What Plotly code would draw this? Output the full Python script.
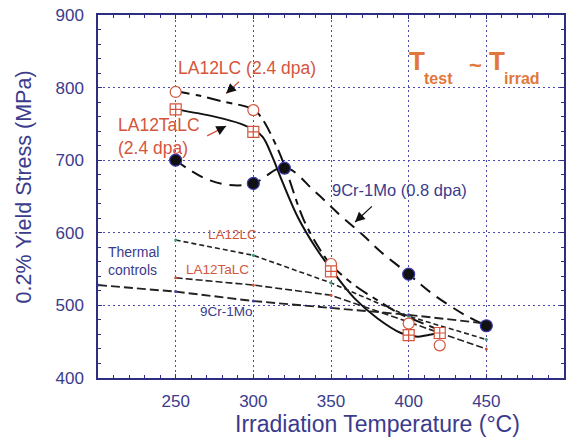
import plotly.graph_objects as go

# ---- measured data ----
temp_irr = [250, 300, 350, 400, 420]
la12lc_ys = [794, 769, 557, 475, 445]
la12talc_ys = [770, 739, 547, 459, 462]

temp_9cr = [250, 300, 320, 400, 450]
cr9_ys = [700, 668, 689, 543, 472]

# fitted trend curves
la12lc_fit_x = [250, 265, 280, 300, 306, 313, 320, 332, 342, 350, 365, 380, 393, 406, 420]
la12lc_fit_y = [795, 789, 781, 770, 756, 728, 693, 620, 580, 556, 528, 507, 490, 478, 466]
la12talc_fit_x = [250, 275, 292, 300, 306, 312, 318, 329, 340, 350, 365, 380, 395, 405, 412, 420]
la12talc_fit_y = [770, 760, 750, 742, 732, 706, 674, 620, 580, 550, 510, 482, 462, 457, 459, 462]
cr9_fit_x = [250, 258, 270, 284, 300, 320, 340, 356, 370, 382, 400, 414, 436, 450]
cr9_fit_y = [700, 688, 674, 666, 668, 690, 656, 624, 598, 574, 543, 518, 487, 472]

# thermal controls
th_x = [250, 300, 350, 400, 450]
th_la12lc = [590, 569, 531, 485, 453]
th_la12talc = [538, 528, 514, 477, 440]
th_9cr_x = [200, 250, 300, 350, 400, 450]
th_9cr = [528, 519, 506, 497, 487, 475]

x_ticks = [250, 300, 350, 400, 450]
y_ticks = [400, 500, 600, 700, 800, 900]

NAVY = "#3b3b8c"
RED = "#d4553c"
ORANGE = "#e2773a"
FONT = "Liberation Sans, Arial, sans-serif"

fig = go.Figure()

# fit curves
fig.add_trace(go.Scatter(x=la12lc_fit_x, y=la12lc_fit_y, mode="lines",
                         line=dict(color="#111", width=2, dash="14px,6px,6px,6px", shape="spline")))
fig.add_trace(go.Scatter(x=la12talc_fit_x, y=la12talc_fit_y, mode="lines",
                         line=dict(color="#111", width=2, shape="spline")))
fig.add_trace(go.Scatter(x=cr9_fit_x, y=cr9_fit_y, mode="lines",
                         line=dict(color="#111", width=2, dash="12px,8px", shape="spline")))

# thermal control lines
fig.add_trace(go.Scatter(x=th_x, y=th_la12lc, mode="lines+markers",
                         line=dict(color="#222", width=1.6, dash="5px,3px"),
                         marker=dict(size=3, color="#3a9a7a")))
fig.add_trace(go.Scatter(x=th_x, y=th_la12talc, mode="lines+markers",
                         line=dict(color="#222", width=1.6, dash="7px,3px"),
                         marker=dict(size=3, color="#d4553c")))
fig.add_trace(go.Scatter(x=th_9cr_x, y=th_9cr, mode="lines+markers",
                         line=dict(color="#222", width=1.9, dash="9px,4px"),
                         marker=dict(size=3, color="#4040a0")))

# data points
fig.add_trace(go.Scatter(x=temp_irr, y=la12lc_ys, mode="markers",
                         marker=dict(symbol="circle", size=11, color="white",
                                     line=dict(color=RED, width=1.2))))
fig.add_trace(go.Scatter(x=temp_irr, y=la12talc_ys, mode="markers",
                         marker=dict(symbol="square-cross", size=11, color="white",
                                     line=dict(color=RED, width=1.2))))
fig.add_trace(go.Scatter(x=temp_9cr, y=cr9_ys, mode="markers",
                         marker=dict(symbol="circle", size=12, color="#111",
                                     line=dict(color="#3b3baa", width=1.2))))

ann = []
def txt(x, y, s, size, color, xanchor="left", bold=False, align="left"):
    ann.append(dict(x=x, y=y, xref="x", yref="y", text=("<b>%s</b>" % s) if bold else s,
                    showarrow=False, xanchor=xanchor, yanchor="middle", align=align,
                    font=dict(family=FONT, size=size, color=color), borderpad=0))

txt(251, 827, "LA12LC (2.4 dpa)", 17.5, RED)
txt(212, 733, "LA12TaLC<br>(2.4 dpa)", 17.5, RED)
txt(350, 659, "9Cr-1Mo (0.8 dpa)", 16.5, NAVY)
txt(206, 561, "Thermal<br>controls", 14, NAVY)
txt(270, 598, "LA12LC", 13.5, RED)
txt(256, 549, "LA12TaLC", 13.5, RED)
txt(265, 491, "9Cr-1Mo", 13.5, NAVY)

# T_test ~ T_irrad
txt(399.5, 837, "T", 26, ORANGE, bold=True)
txt(409, 813, "test", 16, ORANGE, bold=True)
txt(438, 830, "~", 22, ORANGE, bold=True)
txt(451, 837, "T", 26, ORANGE, bold=True)
txt(460.5, 813, "irrad", 16, ORANGE, bold=True)

def arrow(tip, tail, color, head_color):
    # line part
    ann.append(dict(x=tip[0], y=tip[1], ax=tail[0], ay=tail[1], xref="x", yref="y",
                    axref="x", ayref="y", text="", showarrow=True, arrowhead=0,
                    arrowwidth=1.3, arrowcolor=color))
    # head part
    ann.append(dict(x=tip[0], y=tip[1], ax=tip[0] + (tail[0] - tip[0]) * 0.35,
                    ay=tip[1] + (tail[1] - tip[1]) * 0.35, xref="x", yref="y",
                    axref="x", ayref="y", text="", showarrow=True, arrowhead=2,
                    arrowsize=1.3, arrowwidth=1.5, arrowcolor=head_color))

arrow((282.5, 792), (291.7, 810), RED, "#111")
arrow((282.5, 747), (269.3, 732.4), RED, "#111")
arrow((365.5, 615), (377.3, 638.3), "#111", "#111")

# axis titles
ann.append(dict(x=0.600, y=-0.128, xref="paper", yref="paper", showarrow=False,
                text="Irradiation Temperature (°C)", xanchor="center", yanchor="middle",
                font=dict(family=FONT, size=23, color=NAVY)))
ann.append(dict(x=-0.158, y=0.526, xref="paper", yref="paper", showarrow=False,
                text="0.2% Yield Stress (MPa)", textangle=-90, xanchor="center", yanchor="middle",
                font=dict(family=FONT, size=21.5, color=NAVY)))

axis_common = dict(showline=True, linecolor="#2e2e80", linewidth=1.5, mirror="ticks",
                   ticks="inside", ticklen=4, tickcolor="#2e2e80", tickwidth=1,
                   showgrid=True, gridcolor="#4a4ab0", gridwidth=1, griddash="2px,3px",
                   zeroline=False, tickfont=dict(family=FONT, size=17, color=NAVY))

fig.update_layout(
    width=569, height=442,
    margin=dict(l=98, r=3, t=15, b=64),
    paper_bgcolor="white", plot_bgcolor="white",
    showlegend=False,
    annotations=ann,
    xaxis=dict(range=[200, 500], tickvals=x_ticks, ticklabelstandoff=7,
               minor=dict(dtick=10, tick0=200, ticks="inside", ticklen=3, tickcolor="#2e2e80", showgrid=False),
               **axis_common),
    yaxis=dict(range=[400, 900], tickvals=y_ticks, ticklabelstandoff=9,
               minor=dict(dtick=20, tick0=400, ticks="inside", ticklen=3, tickcolor="#2e2e80", showgrid=False),
               **axis_common),
)

fig.write_html("out.html")
